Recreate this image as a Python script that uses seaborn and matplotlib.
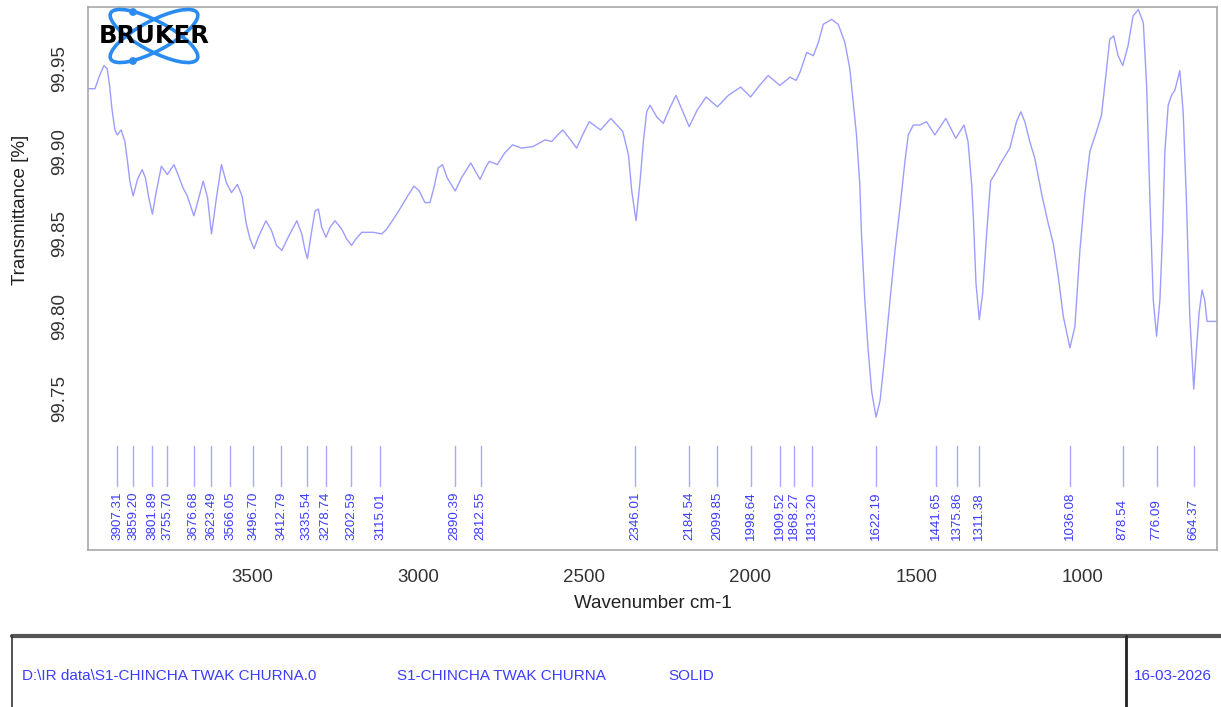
import numpy as np
import pandas as pd
import matplotlib
matplotlib.use("Agg")
import matplotlib.pyplot as plt
from matplotlib.patches import Ellipse, Circle
from matplotlib.lines import Line2D
import seaborn as sns

# Spectrum (wavenumber cm-1, transmittance %)
wavenumber = [3995, 3974, 3960, 3947, 3937, 3930, 3923, 3914, 3907, 3895,
              3884, 3876, 3869, 3859, 3846, 3832, 3822, 3812, 3801, 3789,
              3774, 3756, 3736, 3722, 3709, 3696, 3676, 3661, 3648, 3635,
              3623, 3608, 3593, 3578, 3563, 3545, 3531, 3518, 3507, 3495,
              3482, 3459, 3442, 3427, 3411, 3392, 3366, 3351, 3341, 3334,
              3321, 3311, 3301, 3291, 3278, 3266, 3251, 3231, 3216, 3201,
              3188, 3170, 3136, 3110, 3095, 3065, 3035, 3013, 2997, 2980,
              2965, 2953, 2940, 2927, 2913, 2889, 2870, 2842, 2814, 2798,
              2786, 2762, 2740, 2716, 2689, 2654, 2618, 2598, 2580, 2565,
              2545, 2523, 2505, 2485, 2451, 2420, 2384, 2367, 2357, 2344,
              2332, 2322, 2312, 2302, 2282, 2262, 2243, 2224, 2205, 2184,
              2160, 2133, 2099, 2066, 2029, 1999, 1972, 1946, 1911, 1880,
              1862, 1850, 1830, 1810, 1795, 1780, 1755, 1735, 1715, 1700,
              1690, 1680, 1670, 1665, 1655, 1645, 1634, 1621, 1609, 1594,
              1579, 1564, 1549, 1534, 1524, 1509, 1489, 1469, 1444, 1411,
              1381, 1356, 1344, 1333, 1328, 1320, 1310, 1300, 1288, 1276,
              1258, 1248, 1218, 1198, 1185, 1173, 1158, 1143, 1122, 1102,
              1087, 1072, 1057, 1037, 1022, 1007, 992, 977, 957, 942,
              932, 917, 905, 892, 878, 862, 847, 831, 816, 806,
              796, 786, 776, 766, 758, 751, 741, 731, 721, 706,
              696, 686, 676, 664, 656, 648, 639, 631, 624, 600, 594]
transmittance = [99.938, 99.938, 99.946, 99.952, 99.950, 99.940, 99.926, 99.913, 99.910, 99.913,
                 99.906, 99.894, 99.882, 99.873, 99.883, 99.889, 99.884, 99.872, 99.862, 99.876,
                 99.891, 99.886, 99.892, 99.885, 99.878, 99.873, 99.861, 99.872, 99.882, 99.872,
                 99.850, 99.872, 99.892, 99.881, 99.875, 99.880, 99.873, 99.856, 99.847, 99.841,
                 99.848, 99.858, 99.852, 99.843, 99.840, 99.848, 99.858, 99.850, 99.840, 99.835,
                 99.852, 99.864, 99.865, 99.854, 99.848, 99.854, 99.858, 99.853, 99.847, 99.843,
                 99.847, 99.851, 99.851, 99.850, 99.853, 99.862, 99.872, 99.879, 99.876, 99.869,
                 99.869, 99.878, 99.890, 99.892, 99.884, 99.876, 99.884, 99.893, 99.883, 99.890,
                 99.894, 99.892, 99.899, 99.904, 99.902, 99.903, 99.907, 99.906, 99.910, 99.913,
                 99.908, 99.902, 99.910, 99.918, 99.913, 99.920, 99.912, 99.898, 99.876, 99.858,
                 99.882, 99.906, 99.924, 99.928, 99.921, 99.917, 99.926, 99.934, 99.925, 99.915,
                 99.925, 99.933, 99.927, 99.934, 99.939, 99.933, 99.940, 99.946, 99.940, 99.945,
                 99.943, 99.948, 99.960, 99.958, 99.966, 99.977, 99.980, 99.977, 99.966, 99.950,
                 99.930, 99.910, 99.880, 99.850, 99.810, 99.780, 99.754, 99.739, 99.749, 99.778,
                 99.810, 99.840, 99.866, 99.894, 99.910, 99.916, 99.916, 99.918, 99.910, 99.920,
                 99.908, 99.916, 99.906, 99.880, 99.860, 99.820, 99.798, 99.814, 99.850, 99.882,
                 99.888, 99.892, 99.902, 99.918, 99.924, 99.918, 99.906, 99.896, 99.874, 99.856,
                 99.844, 99.824, 99.800, 99.781, 99.794, 99.840, 99.874, 99.900, 99.912, 99.922,
                 99.940, 99.968, 99.970, 99.958, 99.952, 99.964, 99.982, 99.986, 99.978, 99.940,
                 99.870, 99.810, 99.788, 99.810, 99.850, 99.900, 99.928, 99.934, 99.937, 99.949,
                 99.924, 99.870, 99.800, 99.756, 99.780, 99.802, 99.816, 99.810, 99.797, 99.797, 99.797]

peaks = [3907.31, 3859.20, 3801.89, 3755.70, 3676.68, 3623.49, 3566.05, 3496.70,
         3412.79, 3335.54, 3278.74, 3202.59, 3115.01, 2890.39, 2812.55, 2346.01,
         2184.54, 2099.85, 1998.64, 1909.52, 1868.27, 1813.20, 1622.19, 1441.65,
         1375.86, 1311.38, 1036.08, 878.54, 776.09, 664.37]

x_ticks = [3500, 3000, 2500, 2000, 1500, 1000]
y_ticks = [99.75, 99.80, 99.85, 99.90, 99.95]

footer_path = "D:\\IR data\\S1-CHINCHA TWAK CHURNA.0"
footer_name = "S1-CHINCHA TWAK CHURNA"
footer_state = "SOLID"
footer_date = "16-03-2026"

sns.set_style("white")
plt.rcParams["font.family"] = ["Liberation Sans", "DejaVu Sans"]

df = pd.DataFrame({"wavenumber": wavenumber, "transmittance": transmittance})

fig = plt.figure(figsize=(12.21, 7.07), dpi=100)
ax = fig.add_axes([88 / 1221, 1 - 550 / 707, 1129 / 1221, 543 / 707])

sns.lineplot(data=df, x="wavenumber", y="transmittance", ax=ax, sort=False,
             estimator=None, color="#9d9dff", linewidth=1.0,
             solid_joinstyle="round")

ax.set_xlim(3995, 594)
ax.set_ylim(99.6585, 99.9875)
ax.set_xticks(x_ticks)
ax.set_yticks(y_ticks)
ax.set_xticklabels([str(t) for t in x_ticks])
ax.set_yticklabels([f"{t:.2f}" for t in y_ticks])
ax.tick_params(axis="both", direction="out", length=8, width=1.2, color="#a0a0a0",
               labelsize=13.5, labelcolor="#333333", pad=6)
ax.tick_params(axis="y", labelrotation=90)
for lbl in ax.get_yticklabels():
    lbl.set_va("center")
for s in ax.spines.values():
    s.set_color("#a8a8a8")
    s.set_linewidth(1.2)

ax.set_xlabel("Wavenumber cm-1", fontsize=13.5, color="#222222", labelpad=6)
ax.set_ylabel("Transmittance [%]", fontsize=13.5, color="#222222")
ax.yaxis.set_label_coords(-0.052, 0.626)

# peak markers
for p in peaks:
    ax.plot([p, p], [99.7218, 99.6972], color="#a8a8ff", linewidth=1.0)
    ax.text(p, 99.6648, f"{p:.2f}", rotation=90, ha="center", va="bottom",
            fontsize=9.6, color="#3c3cff")

# Bruker logo
lax = fig.add_axes([88 / 1221, 1 - 66 / 707, 132 / 1221, 60 / 707])
lax.set_xlim(0, 132)
lax.set_ylim(0, 60)
lax.axis("off")
for ang in (28, -28):
    lax.add_patch(Ellipse((66, 30), 98, 30, angle=ang, fill=False,
                          edgecolor="#2a8cf0", linewidth=2.6))
lax.add_patch(Circle((45, 54), 3.2, color="#2a8cf0"))
lax.add_patch(Circle((45, 5), 3.2, color="#2a8cf0"))
lax.text(66, 30, "BRUKER", ha="center", va="center", fontsize=17.5,
         fontweight="heavy", family="DejaVu Sans", color="black")

# footer box
fy = 1 - 636 / 707
fig.add_artist(Line2D([12 / 1221, 1], [fy, fy], color="#555555", linewidth=3))
fig.add_artist(Line2D([12 / 1221, 12 / 1221], [0, fy], color="#333333", linewidth=1.2))
fig.add_artist(Line2D([1126 / 1221, 1126 / 1221], [0, fy], color="#222222", linewidth=2))
ty = 1 - 676 / 707
fig.text(22 / 1221, ty, footer_path, fontsize=11, color="#3c3cff", va="center")
fig.text(397 / 1221, ty, footer_name, fontsize=11, color="#3c3cff", va="center")
fig.text(668 / 1221, ty, footer_state, fontsize=11, color="#3c3cff", va="center")
fig.text(1134 / 1221, ty, footer_date, fontsize=11, color="#3c3cff", va="center")

fig.savefig("out.png", dpi=100)
